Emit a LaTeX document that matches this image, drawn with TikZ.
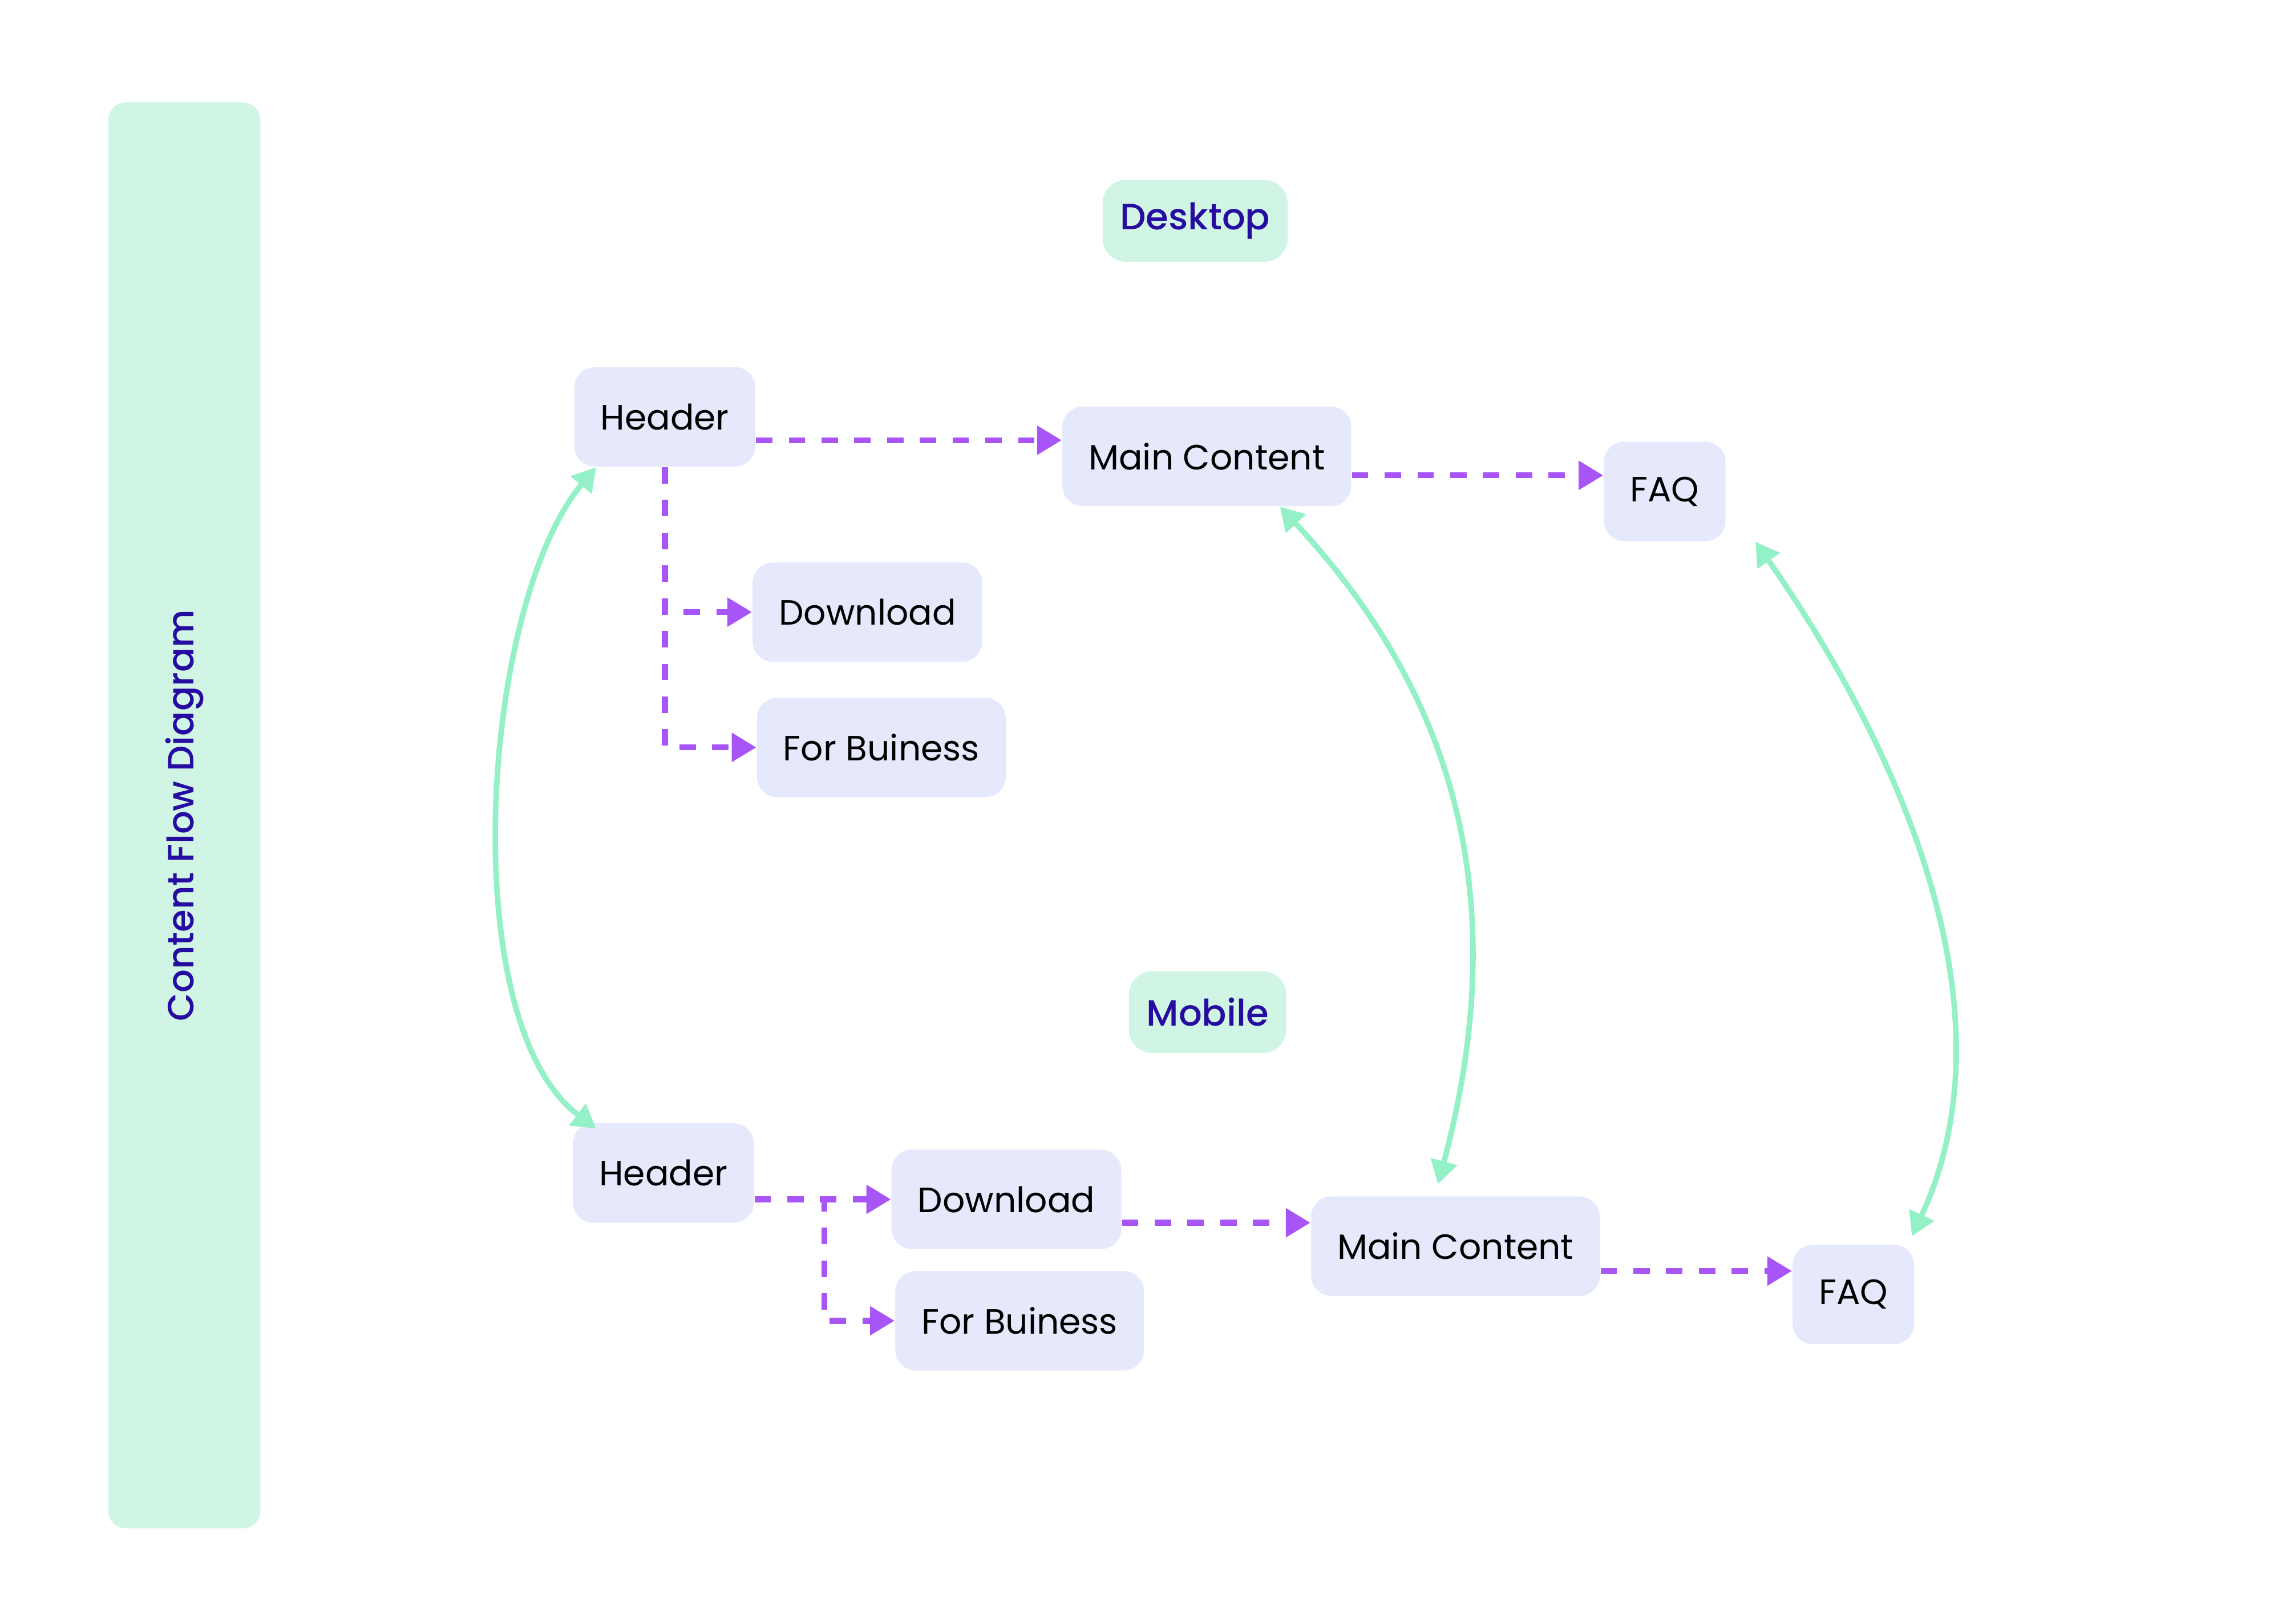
\documentclass[tikz,border=0pt]{standalone}
\usepackage{fontspec}
\setmainfont{Poppins}
\newfontfamily\headfont{Poppins}[UprightFont=* Medium]
\usetikzlibrary{arrows.meta}

\definecolor{boxfill}{RGB}{230,232,252}
\definecolor{mint}{RGB}{209,245,228}
\definecolor{linkgreen}{RGB}{148,240,198}
\definecolor{flowpurple}{RGB}{168,85,247}
\definecolor{titleblue}{RGB}{38,12,160}

\tikzset{
	page/.style={fill=boxfill, rounded corners=7pt, minimum height=34pt, inner xsep=9pt, font=\fontsize{12}{15}\selectfont},
	heading/.style={fill=mint, rounded corners=8pt, minimum height=28pt, inner xsep=6pt, text=titleblue, font=\headfont\fontsize{12.5}{15}\selectfont},
	sidebar/.style={fill=mint, rounded corners=6pt, rotate=90, minimum width=487.5pt, minimum height=52pt, text=titleblue, font=\headfont\fontsize{12.5}{15}\selectfont},
	flow/.style={draw=flowpurple, line width=2pt, dash pattern=on 5.6pt off 5.6pt, -{Triangle[length=8.4pt,width=9.5pt]}},
	link/.style={draw=linkgreen, line width=1.9pt, {Triangle[length=8pt,width=9pt]}-{Triangle[length=8pt,width=9pt]}}
}

\begin{document}
\begin{tikzpicture}[x=0.5pt, y=0.5pt]
	\useasboundingbox (0,0) rectangle (1560,1110);

	\node[sidebar] (side) at (126,552.5) {Content Flow Diagram};

	% desktop
	\node[heading] (desk) at (817,959) {Desktop};
	\node[page] (dh) at (454.5,825) {Header};
	\node[page] (dm) at (825,798) {Main Content};
	\node[page] (df) at (1138,774) {FAQ};
	\node[page] (dd) at (593,691.5) {Download};
	\node[page] (db) at (602.5,599) {For Buiness};

	% mobile
	\node[heading] (mob) at (825.5,418) {Mobile};
	\node[page] (mh) at (453.5,308) {Header};
	\node[page] (md) at (688,290) {Download};
	\node[page] (mb) at (697,207) {For Buiness};
	\node[page] (mm) at (995,258) {Main Content};
	\node[page] (mf) at (1267,225) {FAQ};

	\draw [flow] ([yshift=-8pt]dh.east) -- ([yshift=5.5pt]dm.west);
	\draw [flow] ([yshift=-6.5pt]dm.east) -- ([yshift=5.5pt]df.west);
	\draw [flow] (dh.south) |- (dd.west);
	\draw [flow] (dh.south) |- (db.west);

	\draw [flow] (md.west -| mh.east) -- (md.west);
	\draw [flow] (md.west -| mh.east) -| ([xshift=-24pt]mb.west) |- (mb.west);
	\draw [flow] ([yshift=-8pt]md.east) -- ([yshift=8pt]mm.west);
	\draw [flow] ([yshift=-8.5pt]mm.east) -- ([yshift=8pt]mf.west);

	\draw [link] ([xshift=-23.5pt]dh.south) to[out=230, in=143, out distance=61pt, in distance=61pt] ([xshift=-23pt,yshift=-2pt]mh.north);
	\draw [link] ([xshift=25pt]dm.south) to[out=-47, in=75, out distance=78pt, in distance=110pt] ([xshift=-6pt,yshift=4pt]mm.north);
	\draw [link] ([xshift=10pt]df.south east) to[out=-55, in=65, out distance=75pt, in distance=90pt] ([xshift=-1pt,yshift=2.7pt]mf.north east);
\end{tikzpicture}
\end{document}
